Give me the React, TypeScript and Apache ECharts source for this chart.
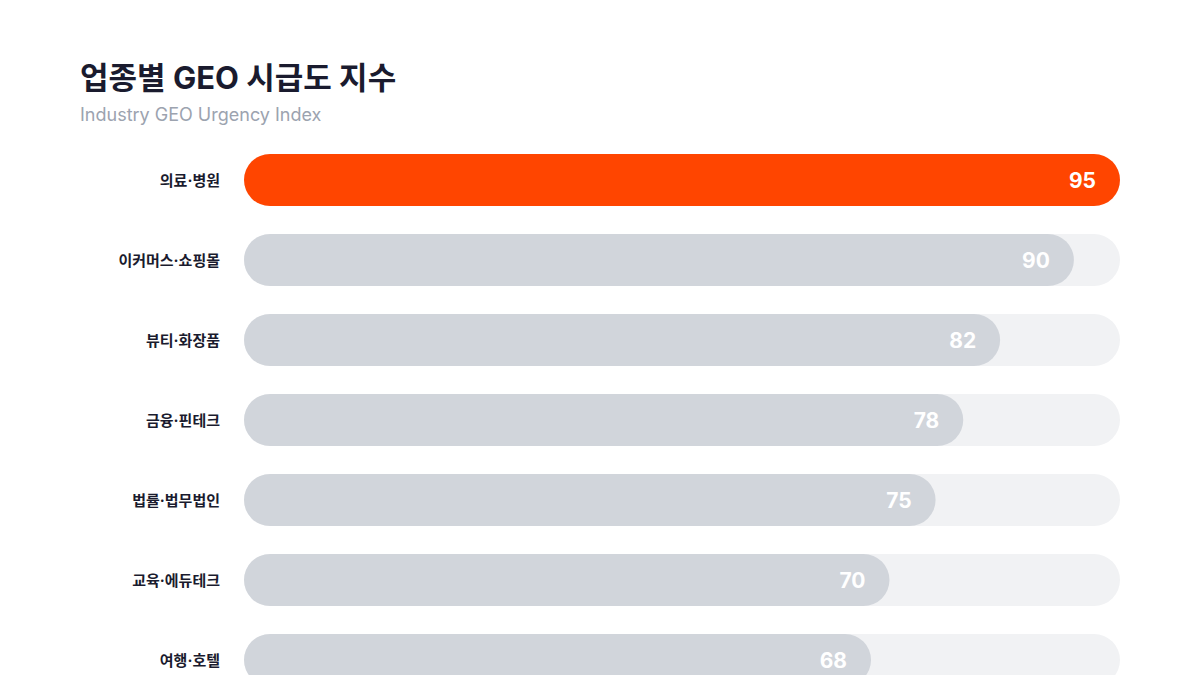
import React, { useEffect, useRef } from "react";
import * as echarts from "echarts";

const TITLE = "업종별 GEO 시급도 지수";
const SUBTITLE = "Industry GEO Urgency Index";

const categories = [
    "의료·병원",
    "이커머스·쇼핑몰",
    "뷰티·화장품",
    "금융·핀테크",
    "법률·법무법인",
    "교육·에듀테크",
    "여행·호텔",
];
const values = [95, 90, 82, 78, 75, 70, 68];
const highlightIndex = 0;

const FONT = "Inter, 'Noto Sans CJK KR', sans-serif";
const HIGHLIGHT = "#ff4500";
const BAR = "#d1d5db";
const TRACK = "#f1f2f4";

export default function App() {
    const ref = useRef<HTMLDivElement | null>(null);

    useEffect(() => {
        if (!ref.current) return;
        const inst = echarts.init(ref.current, undefined, { renderer: "svg" });

        inst.setOption({
            animation: false,
            backgroundColor: "#ffffff",
            title: {
                text: TITLE,
                subtext: SUBTITLE,
                left: 80,
                top: 62,
                padding: 0,
                itemGap: 13,
                textStyle: {
                    fontFamily: "Inter, 'Noto Sans CJK KR', sans-serif",
                    fontWeight: "bold",
                    fontSize: 31,
                    color: "#1a1b2e",
                },
                subtextStyle: {
                    fontFamily: FONT,
                    fontSize: 18,
                    color: "#9ca3af",
                },
            },
            grid: { left: 244, right: 80, top: 140, bottom: 20 },
            xAxis: {
                type: "value",
                min: 0,
                max: 95,
                show: false,
            },
            yAxis: {
                type: "category",
                data: categories,
                inverse: true,
                axisLine: { show: false },
                axisTick: { show: false },
                splitLine: { show: false },
                axisLabel: {
                    margin: 24,
                    fontFamily: FONT,
                    fontWeight: "bold",
                    fontSize: 15,
                    color: "#1a1b2e",
                },
            },
            series: [
                {
                    type: "bar",
                    barWidth: 52,
                    showBackground: true,
                    backgroundStyle: { color: TRACK, borderRadius: 26 },
                    data: values.map((v, i) => ({
                        value: v,
                        itemStyle: {
                            color: i === highlightIndex ? HIGHLIGHT : BAR,
                            borderRadius: 26,
                        },
                    })),
                    label: {
                        show: true,
                        position: "insideRight",
                        distance: 24,
                        fontFamily: FONT,
                        fontWeight: "bold",
                        fontSize: 21,
                        color: "#ffffff",
                    },
                },
            ],
        });

        return () => {
            inst.dispose();
        };
    }, []);

    return (
        <div
            ref={ref}
            style={{ position: "fixed", top: 0, left: 0, width: 1200, height: 720 }}
        />
    );
}
